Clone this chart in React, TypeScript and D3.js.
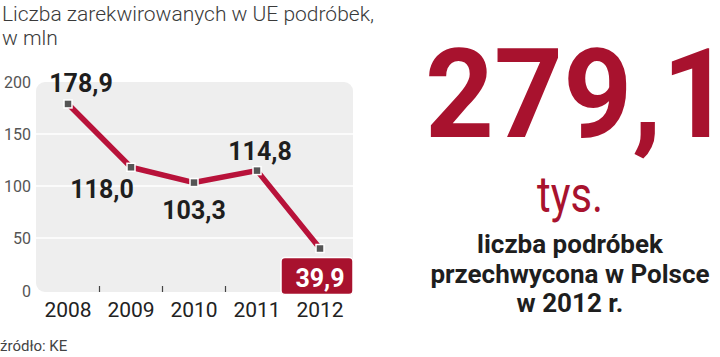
import React from "react";
import * as d3 from "d3";

const years = ["2008", "2009", "2010", "2011", "2012"];
const values = [178.9, 118.0, 103.3, 114.8, 39.9];
const valueLabels = ["178,9", "118,0", "103,3", "114,8", "39,9"];
const yTicks = [0, 50, 100, 150, 200];
const title1 = "Liczba zarekwirowanych w UE podróbek,";
const title2 = "w mln";
const bigNumber = "279,1";
const bigUnit = "tys.";
const descLines = ["liczba podróbek", "przechwycona w Polsce", "w 2012 r."];
const source = "źródło: KE";

// label layout offsets (dx, dy of label center/baseline relative to point)
const labelOffsets: [number, number][] = [
  [13, -12],
  [-29, 31],
  [0, 36],
  [3, -11],
  [0, 38],
];

const W = 720;
const H = 357;

export default function App() {
  const x = d3.scalePoint<string>().domain(years).range([68, 320]);
  const y = d3.scaleLinear().domain([0, 200]).range([290, 82]);
  const line = d3
    .line<number>()
    .x((_, i) => x(years[i]) as number)
    .y((d) => y(d));
  const step = x.step();
  const red = "#b8123a";
  const last = values.length - 1;
  const lx = x(years[last]) as number;
  const ly = y(values[last]);

  return (
    <svg
      width={W}
      height={H}
      style={{ position: "absolute", left: 0, top: 0, background: "#fff" }}
      fontFamily="Roboto, sans-serif"
    >
      <text x={2} y={21} fontSize={21} fontWeight={300} fill="#3a3a3a">
        {title1}
      </text>
      <text x={2} y={45} fontSize={21} fontWeight={300} fill="#3a3a3a">
        {title2}
      </text>

      <rect x={36} y={82} width={317} height={210} rx={9} fill="#eeeeee" />
      {yTicks
        .filter((t) => t > 0 && t < 200)
        .map((t) => (
          <line
            key={t}
            x1={36}
            x2={353}
            y1={y(t)}
            y2={y(t)}
            stroke="#ffffff"
            strokeWidth={1.5}
          />
        ))}
      {yTicks.map((t) => (
        <text
          key={t}
          x={31}
          y={y(t) + (t === 0 ? 7 : 6)}
          textAnchor="end"
          fontSize={16}
          fill="#555"
        >
          {t}
        </text>
      ))}
      {years.slice(0, -1).map((yr) => (
        <line
          key={yr}
          x1={(x(yr) as number) + step / 2}
          x2={(x(yr) as number) + step / 2}
          y1={286}
          y2={292}
          stroke="#444"
          strokeWidth={1.2}
        />
      ))}
      {years.map((yr) => (
        <text
          key={yr}
          x={x(yr) as number}
          y={317}
          textAnchor="middle"
          fontSize={21}
          fill="#222"
        >
          {yr}
        </text>
      ))}

      <path
        d={line(values) || ""}
        fill="none"
        stroke={red}
        strokeWidth={5.5}
        strokeLinejoin="round"
      />
      {values.map((v, i) => (
        <rect
          key={i}
          x={(x(years[i]) as number) - 4}
          y={y(v) - 4}
          width={8}
          height={8}
          fill="#555"
          stroke="#fff"
          strokeWidth={1.5}
        />
      ))}

      <rect
        x={lx - 39}
        y={ly + 9}
        width={72}
        height={37}
        rx={4}
        fill="#a8122e"
        stroke="#fff"
        strokeWidth={1.5}
      />
      {values.map((v, i) => (
        <text
          key={i}
          x={(x(years[i]) as number) + labelOffsets[i][0]}
          y={y(v) + labelOffsets[i][1]}
          textAnchor="middle"
          fontSize={25}
          fontWeight={700}
          fill={i === last ? "#fff" : "#1e1e1e"}
        >
          {valueLabels[i]}
        </text>
      ))}

      <text
        x={578}
        y={137}
        textAnchor="middle"
        fontSize={124}
        fontWeight={700}
        fill="#a8122e"
        textLength={306}
        lengthAdjust="spacingAndGlyphs"
      >
        {bigNumber}
      </text>
      <text
        x={570}
        y={212}
        textAnchor="middle"
        fontSize={50}
        fontWeight={400}
        fill="#a8122e"
        textLength={66}
        lengthAdjust="spacingAndGlyphs"
      >
        {bigUnit}
      </text>
      {descLines.map((l, i) => (
        <text
          key={i}
          x={570}
          y={253 + i * 29.5}
          textAnchor="middle"
          fontSize={26}
          fontWeight={700}
          fill="#1e1e1e"
        >
          {l}
        </text>
      ))}

      <text x={0} y={351} fontSize={15} fill="#444">
        {source}
      </text>
    </svg>
  );
}
